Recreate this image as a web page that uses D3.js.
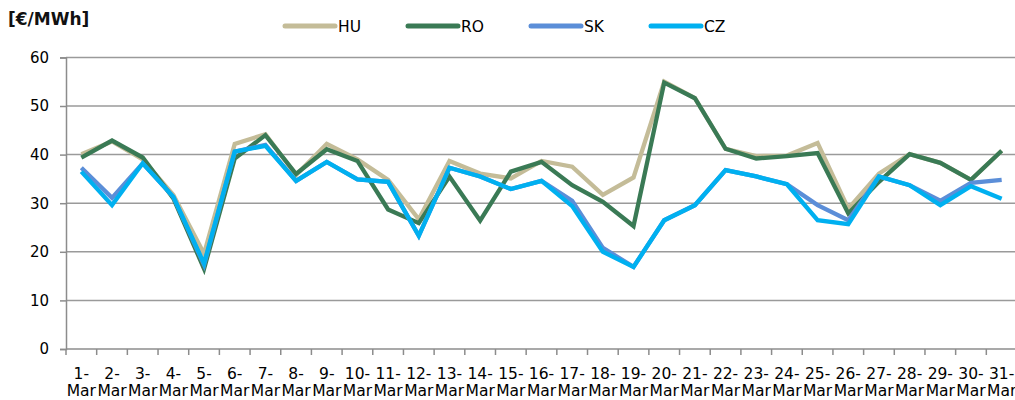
<!DOCTYPE html>
<html>
<head>
<meta charset="utf-8">
<script src="https://cdn.jsdelivr.net/npm/d3@7"></script>
<style>
  body { margin: 0; background: #fff; }
  svg { display: block; font-family: "DejaVu Sans", Verdana, sans-serif; }
</style>
</head>
<body>
<div id="root"></div>
<script>
// days of March
var days = d3.range(1, 32).map(function(d) { return d + "-Mar"; });
var yTicks = [0, 10, 20, 30, 40, 50, 60];

var hu = [40.1, 42.7, 39.0, 31.7, 19.6, 42.2, 44.2, 35.8, 42.2, 39.0, 34.8, 26.7, 38.7, 36.1, 35.1, 38.7,
  37.5, 31.7, 35.3, 55.0, 51.6, 41.2, 39.7, 39.8, 42.4, 28.9, 36.1, 40.1, 38.3, 34.8, 40.8];
var ro = [39.4, 42.9, 39.4, 31.0, 16.5, 39.2, 44.0, 36.0, 41.1, 38.7, 28.7, 25.9, 35.5, 26.4, 36.5, 38.5,
  33.7, 30.3, 25.3, 54.8, 51.6, 41.2, 39.2, 39.7, 40.3, 27.9, 34.4, 40.1, 38.3, 34.8, 40.8];
var sk = [37.3, 31.1, 38.2, 31.3, 17.3, 40.6, 42.0, 34.6, 38.5, 34.9, 34.4, 23.3, 37.3, 35.5, 32.9, 34.6,
  30.5, 20.8, 16.9, 26.5, 29.6, 36.8, 35.5, 33.9, 29.6, 26.5, 35.5, 33.7, 30.5, 34.2, 34.8];
var cz = [36.5, 29.6, 38.2, 31.3, 17.6, 40.6, 41.8, 34.6, 38.5, 34.9, 34.4, 23.3, 37.3, 35.5, 32.9, 34.6,
  29.4, 20.0, 16.9, 26.5, 29.6, 36.8, 35.5, 33.9, 26.5, 25.7, 35.5, 33.7, 29.6, 33.5, 30.9];

var series = [
  { name: "HU", values: hu, color: "#c4bc98" },
  { name: "RO", values: ro, color: "#3a7a55" },
  { name: "SK", values: sk, color: "#5b8ed8" },
  { name: "CZ", values: cz, color: "#00b0f0" }
];

var w = 1015, h = 400;
var plotLeft = 66, plotRight = 1017, plotTop = 57.4, plotBottom = 349;

var svg = d3.select("#root").append("svg").attr("width", w).attr("height", h);

var x = d3.scaleBand().domain(days).range([plotLeft, plotRight]).padding(0);
var y = d3.scaleLinear().domain([0, 60]).range([plotBottom, plotTop]);

// grid lines
svg.append("g").selectAll("line").data(yTicks.slice(1)).enter().append("line")
  .attr("x1", plotLeft).attr("x2", w)
  .attr("y1", function(d) { return y(d); }).attr("y2", function(d) { return y(d); })
  .attr("stroke", "#9a9a9a").attr("stroke-width", 1.5);

// y axis
var yAxis = d3.axisLeft(y).tickValues(yTicks).tickSize(6).tickPadding(11);
var gy = svg.append("g").attr("transform", "translate(" + plotLeft + ",0)").call(yAxis);
gy.select(".domain").attr("stroke", "#8c8c8c").attr("stroke-width", 1.5);
gy.selectAll(".tick line").attr("stroke", "#8c8c8c").attr("stroke-width", 1.5);
gy.selectAll("text").style("font-size", "15px").attr("fill", "#000").attr("font-family", "DejaVu Sans");

// x axis line + ticks at category boundaries
svg.append("line").attr("x1", plotLeft).attr("x2", w).attr("y1", plotBottom).attr("y2", plotBottom)
  .attr("stroke", "#8c8c8c").attr("stroke-width", 1.5);
svg.append("g").selectAll("line").data(days).enter().append("line")
  .attr("x1", function(d) { return x(d); }).attr("x2", function(d) { return x(d); })
  .attr("y1", plotBottom).attr("y2", plotBottom + 6)
  .attr("stroke", "#8c8c8c").attr("stroke-width", 1.5);

var xl = svg.append("g").selectAll("text").data(days).enter().append("text")
  .attr("text-anchor", "middle").style("font-size", "15.5px").attr("fill", "#000");
xl.append("tspan").attr("x", function(d) { return x(d) + x.bandwidth() / 2; }).attr("y", 379)
  .text(function(d) { return d.split("-")[0] + "-"; });
xl.append("tspan").attr("x", function(d) { return x(d) + x.bandwidth() / 2; }).attr("y", 396)
  .text(function(d) { return d.split("-")[1]; });

// lines
var line = d3.line()
  .x(function(d, i) { return x(days[i]) + x.bandwidth() / 2; })
  .y(function(d) { return y(d); });

svg.append("g").selectAll("path").data(series).enter().append("path")
  .attr("d", function(s) { return line(s.values); })
  .attr("fill", "none").attr("stroke", function(s) { return s.color; })
  .attr("stroke-width", 4.3).attr("stroke-linejoin", "miter");

// unit label
svg.append("text").attr("x", 8).attr("y", 25).style("font-size", "17px").style("font-weight", "bold")
  .attr("fill", "#111").text("[€/MWh]");

// legend
var legX = [285, 408, 531, 651];
var lg = svg.append("g").selectAll("g").data(series).enter().append("g")
  .attr("transform", function(s, i) { return "translate(" + legX[i] + ",26)"; });
lg.append("line").attr("x1", 0).attr("x2", 50).attr("y1", 0).attr("y2", 0)
  .attr("stroke", function(s) { return s.color; }).attr("stroke-width", 5).attr("stroke-linecap", "round");
lg.append("text").attr("x", 53).attr("y", 5.5).style("font-size", "15.5px").attr("fill", "#000")
  .text(function(s) { return s.name; });
</script>
</body>
</html>
